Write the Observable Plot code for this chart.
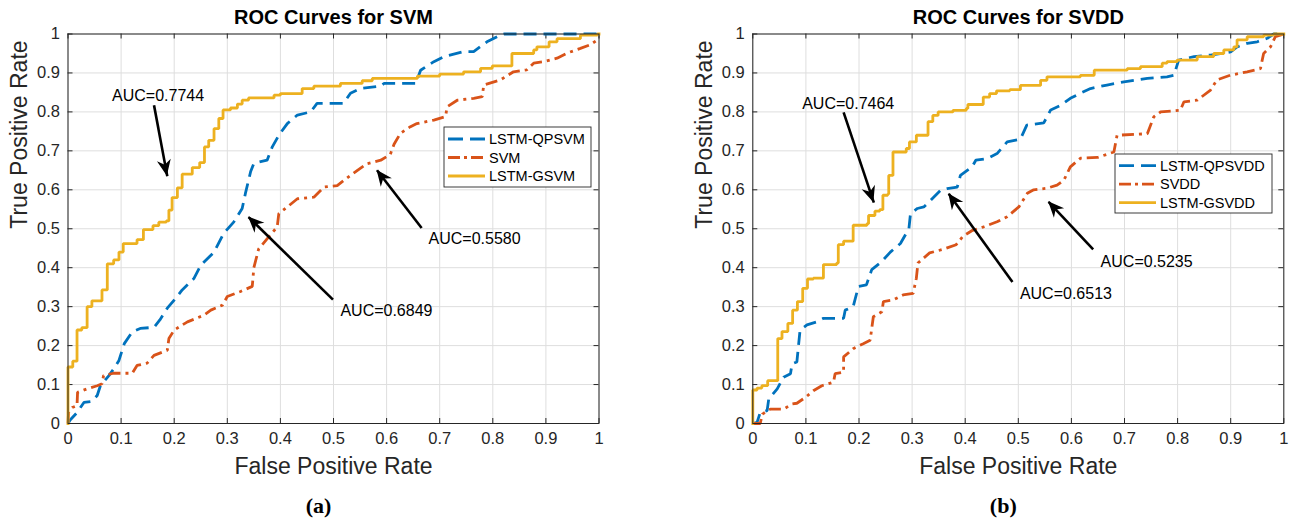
<!DOCTYPE html>
<html><head><meta charset="utf-8">
<script src="https://cdn.jsdelivr.net/npm/d3@7"></script>
<script src="https://cdn.jsdelivr.net/npm/@observablehq/plot@0.6"></script>
<style>
html,body{margin:0;padding:0;background:#fff;}
#fig{position:relative;width:1294px;height:522px;overflow:hidden;background:#fff;}
#fig svg{position:absolute;top:0;}
</style></head><body><div id="fig"></div>
<script>
// ---------- tick values / labels ----------
const tickValues = [0,0.1,0.2,0.3,0.4,0.5,0.6,0.7,0.8,0.9,1];
const tickLabels = ["0","0.1","0.2","0.3","0.4","0.5","0.6","0.7","0.8","0.9","1"];

// ---------- panel (a): SVM ----------
const titleA = "ROC Curves for SVM";
const namesA = ["LSTM-QPSVM","SVM","LSTM-GSVM"];
const qpsvmFpr = [0,0.004,0.017,0.03,0.045,0.055,0.061,0.077,0.086,0.096,0.106,0.121,0.136,0.162,0.173,0.187,0.203,0.215,0.237,0.25,0.275,0.293,0.312,0.328,0.334,0.344,0.35,0.375,0.385,0.397,0.413,0.432,0.457,0.469,0.519,0.532,0.551,0.589,0.595,0.655,0.664,0.689,0.708,0.745,0.764,0.789,0.814,0.821,1];
const qpsvmTpr = [0,0.009,0.028,0.054,0.057,0.072,0.097,0.123,0.14,0.162,0.205,0.235,0.244,0.247,0.266,0.296,0.322,0.343,0.372,0.406,0.44,0.488,0.517,0.552,0.59,0.647,0.668,0.676,0.711,0.74,0.77,0.792,0.8,0.822,0.822,0.848,0.86,0.866,0.873,0.873,0.907,0.929,0.942,0.955,0.955,0.98,0.997,1,1];
const svmFpr = [0,0.001,0.008,0.017,0.018,0.036,0.055,0.064,0.067,0.086,0.121,0.13,0.149,0.162,0.187,0.19,0.2,0.225,0.256,0.269,0.291,0.3,0.325,0.347,0.35,0.359,0.378,0.394,0.397,0.413,0.432,0.463,0.482,0.507,0.532,0.563,0.589,0.607,0.614,0.626,0.645,0.657,0.689,0.711,0.714,0.733,0.764,0.78,0.783,0.814,0.839,0.864,0.877,0.896,0.921,0.94,0.965,0.983,0.997,1];
const svmTpr = [0,0.028,0.041,0.046,0.08,0.089,0.097,0.102,0.123,0.129,0.129,0.149,0.155,0.175,0.188,0.218,0.24,0.261,0.278,0.291,0.304,0.326,0.339,0.352,0.4,0.448,0.479,0.505,0.539,0.556,0.577,0.581,0.607,0.611,0.637,0.667,0.676,0.691,0.717,0.745,0.762,0.77,0.779,0.788,0.813,0.83,0.835,0.839,0.869,0.882,0.903,0.908,0.925,0.929,0.938,0.951,0.963,0.972,0.985,0.99];
const gsvmFpr = [0,0,0.009,0.017,0.026,0.036,0.045,0.064,0.074,0.086,0.096,0.104,0.13,0.142,0.16,0.171,0.185,0.19,0.196,0.206,0.215,0.234,0.248,0.257,0.265,0.275,0.284,0.292,0.306,0.319,0.328,0.34,0.388,0.4,0.441,0.463,0.513,0.554,0.573,0.658,0.7,0.745,0.777,0.799,0.836,0.877,0.883,0.906,0.921,0.965,0.997,1];
const gsvmTpr = [0,0.145,0.16,0.24,0.246,0.3,0.315,0.343,0.41,0.42,0.44,0.462,0.472,0.498,0.508,0.517,0.52,0.548,0.58,0.605,0.64,0.657,0.67,0.71,0.727,0.757,0.783,0.805,0.81,0.82,0.83,0.836,0.843,0.847,0.86,0.866,0.873,0.88,0.886,0.892,0.897,0.903,0.912,0.918,0.95,0.959,0.967,0.98,0.988,0.997,1,1];
const aucTextA = ["AUC=0.7744","AUC=0.6849","AUC=0.5580"];
const aucTextXA = [0.083,0.513,0.679];
const aucTextYA = [0.841,0.288,0.475];
const arrowFromXA = [0.162,0.499,0.666];
const arrowFromYA = [0.817,0.318,0.502];
const arrowToXA = [0.187,0.340,0.582];
const arrowToYA = [0.635,0.530,0.650];

// ---------- panel (b): SVDD ----------
const titleB = "ROC Curves for SVDD";
const namesB = ["LSTM-QPSVDD","SVDD","LSTM-GSVDD"];
const qpsvddFpr = [0,0.008,0.014,0.027,0.03,0.046,0.058,0.071,0.074,0.083,0.089,0.102,0.121,0.133,0.171,0.174,0.189,0.199,0.214,0.224,0.243,0.259,0.278,0.294,0.297,0.31,0.322,0.335,0.354,0.366,0.385,0.391,0.413,0.42,0.441,0.46,0.479,0.504,0.516,0.548,0.561,0.58,0.598,0.617,0.636,0.667,0.699,0.724,0.743,0.78,0.793,0.802,0.831,0.862,0.9,0.912,0.931,0.95,0.969,0.981,1];
const qpsvddTpr = [0,0.003,0.028,0.033,0.063,0.089,0.119,0.128,0.153,0.158,0.24,0.253,0.261,0.27,0.27,0.291,0.3,0.352,0.356,0.395,0.416,0.44,0.462,0.5,0.539,0.552,0.556,0.573,0.599,0.603,0.607,0.637,0.659,0.676,0.68,0.693,0.723,0.73,0.766,0.772,0.805,0.817,0.835,0.848,0.86,0.869,0.877,0.882,0.886,0.89,0.894,0.933,0.942,0.946,0.954,0.967,0.976,0.98,0.989,1,1];
const svddFpr = [0,0.014,0.018,0.033,0.058,0.074,0.083,0.099,0.114,0.13,0.152,0.155,0.171,0.171,0.189,0.208,0.221,0.227,0.243,0.246,0.264,0.283,0.302,0.308,0.311,0.333,0.358,0.383,0.396,0.414,0.435,0.46,0.479,0.501,0.517,0.529,0.554,0.573,0.586,0.598,0.617,0.649,0.68,0.686,0.743,0.755,0.768,0.805,0.812,0.837,0.862,0.874,0.899,0.931,0.956,0.962,0.975,0.984,1];
const svddTpr = [0,0,0.024,0.037,0.037,0.05,0.052,0.067,0.084,0.097,0.106,0.128,0.132,0.171,0.192,0.205,0.214,0.274,0.287,0.313,0.317,0.33,0.334,0.373,0.412,0.438,0.447,0.459,0.481,0.496,0.505,0.518,0.531,0.556,0.591,0.6,0.604,0.612,0.625,0.659,0.681,0.683,0.697,0.74,0.744,0.787,0.8,0.804,0.826,0.83,0.856,0.882,0.894,0.903,0.911,0.95,0.967,0.993,1];
const gsvddFpr = [0,0,0.008,0.017,0.028,0.047,0.055,0.066,0.075,0.084,0.094,0.103,0.114,0.133,0.158,0.161,0.171,0.189,0.215,0.218,0.23,0.239,0.245,0.254,0.256,0.264,0.289,0.295,0.308,0.33,0.339,0.349,0.377,0.402,0.405,0.434,0.446,0.459,0.484,0.504,0.542,0.554,0.617,0.643,0.705,0.73,0.771,0.78,0.799,0.837,0.868,0.887,0.906,0.912,0.931,0.962,0.981,1];
const gsvddTpr = [0,0.086,0.091,0.097,0.11,0.218,0.236,0.257,0.291,0.313,0.347,0.371,0.373,0.408,0.412,0.459,0.468,0.509,0.513,0.534,0.545,0.549,0.586,0.589,0.637,0.697,0.706,0.723,0.74,0.775,0.791,0.8,0.804,0.809,0.819,0.838,0.847,0.854,0.857,0.868,0.881,0.89,0.894,0.907,0.911,0.916,0.925,0.929,0.933,0.942,0.95,0.959,0.967,0.985,0.993,0.997,1,1];
const aucTextB = ["AUC=0.7464","AUC=0.6513","AUC=0.5235"];
const aucTextXB = [0.093,0.503,0.655];
const aucTextYB = [0.820,0.333,0.415];
const arrowFromXB = [0.171,0.489,0.641];
const arrowFromYB = [0.799,0.363,0.447];
const arrowToXB = [0.228,0.369,0.557];
const arrowToYB = [0.567,0.590,0.569];

// ---------- styles ----------
const COLORS = ["#0072BD","#D95319","#EDB120"];
const DASHES = ["13,7","12,5,3,5",null];
const CURVES = ["linear","linear","step-after"];
const FONT = "'Liberation Sans', Arial, Helvetica, sans-serif";

function rows(fpr, tpr) { return fpr.map((f, i) => ({fpr: f, tpr: tpr[i]})); }

function panel(cfg) {
  const W = 647, H = 522;
  const mt = 33.5, mb = 99;
  const innerH = H - mt - mb, innerW = W - cfg.ml - cfg.mr;
  const fmt = d => tickLabels[tickValues.indexOf(d)];
  const ann = cfg.annText.map((t, i) => ({t, x: cfg.annX[i], y: cfg.annY[i],
    x1: cfg.fromX[i], y1: cfg.fromY[i], x2: cfg.toX[i], y2: cfg.toY[i]}));
  const marks = [
    Plot.gridX(tickValues, {stroke: "#dedede", strokeOpacity: 1, strokeWidth: 1}),
    Plot.gridY(tickValues, {stroke: "#dedede", strokeOpacity: 1, strokeWidth: 1}),
    Plot.tickX(tickValues, {x: d => d, insetTop: innerH - 5, stroke: "#262626", strokeWidth: 1}),
    Plot.tickX(tickValues, {x: d => d, insetBottom: innerH - 5, stroke: "#262626", strokeWidth: 1}),
    Plot.tickY(tickValues, {y: d => d, insetRight: innerW - 5, stroke: "#262626", strokeWidth: 1}),
    Plot.tickY(tickValues, {y: d => d, insetLeft: innerW - 5, stroke: "#262626", strokeWidth: 1}),
    Plot.axisX(tickValues, {anchor: "bottom", tickSize: 0, tickPadding: 9, tickFormat: fmt, fontSize: 16.5, label: null, fill: "#262626"}),
    Plot.axisY(tickValues, {anchor: "left", tickSize: 0, tickPadding: 8, tickFormat: fmt, fontSize: 16.5, label: null, fill: "#262626"}),
  ];
  cfg.series.forEach((s, k) => {
    marks.push(Plot.line(rows(s.fpr, s.tpr), {
      x: "fpr", y: "tpr", stroke: COLORS[k], strokeWidth: 2.8,
      strokeDasharray: DASHES[k] || undefined, strokeLinecap: DASHES[k] ? "butt" : "square",
      strokeLinejoin: "miter", curve: CURVES[k]
    }));
  });
  marks.push(
    Plot.frame({stroke: "#262626", strokeWidth: 1}),
    Plot.link(ann, {x1: "x1", y1: "y1", x2: "x2", y2: "y2", stroke: "black", strokeWidth: 2.6}),
    Plot.text(ann, {x: "x", y: "y", text: "t", textAnchor: "start", lineAnchor: "middle", fontSize: 16, fill: "black"}),
    Plot.text([cfg.title], {text: d => d, frameAnchor: "top", lineAnchor: "middle", dy: -16, fontSize: 20, fontWeight: "bold", fill: "black"}),
    Plot.text(["False Positive Rate"], {text: d => d, frameAnchor: "bottom", lineAnchor: "middle", dy: 43, fontSize: 23, fill: "#262626"}),
    Plot.text(["True Positive Rate"], {text: d => d, frameAnchor: "left", lineAnchor: "middle", dx: -48, rotate: -90, fontSize: 23, fill: "#262626"}),
    Plot.text([cfg.sub], {text: d => d, frameAnchor: "bottom", lineAnchor: "middle", dy: 82, dx: -15, fontSize: 22, fontWeight: "bold", fontFamily: "'Liberation Serif', 'Times New Roman', serif", fill: "black"})
  );
  const plot = Plot.plot({
    width: W, height: H,
    marginTop: mt, marginBottom: mb, marginLeft: cfg.ml, marginRight: cfg.mr,
    x: {domain: [0, 1]}, y: {domain: [0, 1]},
    style: {fontFamily: FONT, background: "white", color: "#262626", overflow: "visible"},
    marks
  });
  // arrow heads (filled, notched) placed with the plot's scales
  const sx = plot.scale("x"), sy = plot.scale("y");
  const svg = d3.select(plot);
  const gh = svg.append("g");
  ann.forEach(a => {
    const tx = sx.apply(a.x2), ty = sy.apply(a.y2);
    const fx = sx.apply(a.x1), fy = sy.apply(a.y1);
    const len = Math.hypot(tx - fx, ty - fy);
    const ux = (tx - fx) / len, uy = (ty - fy) / len;
    const nx = -uy, ny = ux;
    const L = 16, Wd = 7, N = 5;
    const pts = [[tx, ty], [tx - L*ux + Wd*nx, ty - L*uy + Wd*ny], [tx - (L-N)*ux, ty - (L-N)*uy], [tx - L*ux - Wd*nx, ty - L*uy - Wd*ny]];
    gh.append("polygon").attr("points", pts.map(p => p.join(",")).join(" ")).attr("fill", "black");
  });
  // legend box
  const lg = cfg.legend;
  const g = svg.append("g").attr("font-family", FONT).attr("text-anchor", "start");
  g.append("rect").attr("x", lg.x).attr("y", lg.y).attr("width", lg.w).attr("height", lg.h)
    .attr("fill", "white").attr("stroke", "#262626").attr("stroke-width", 0.9);
  cfg.names.forEach((n, k) => {
    const yy = lg.y + lg.row0 + k * lg.dy;
    g.append("line").attr("x1", lg.x + 4).attr("x2", lg.x + 41).attr("y1", yy).attr("y2", yy)
      .attr("stroke", COLORS[k]).attr("stroke-width", 2.8)
      .attr("stroke-dasharray", DASHES[k] ? (k === 0 ? "15,7" : "12,4,3,4") : null);
    g.append("text").attr("x", lg.x + 45).attr("y", yy).attr("dy", "0.35em")
      .attr("text-anchor", "start").attr("font-size", 14.5).attr("fill", "black").text(n);
  });
  return plot;
}

const fig = document.getElementById("fig");
const pa = panel({
  title: titleA, sub: "(a)", names: namesA, ml: 67.5, mr: 48.5,
  series: [{fpr: qpsvmFpr, tpr: qpsvmTpr}, {fpr: svmFpr, tpr: svmTpr}, {fpr: gsvmFpr, tpr: gsvmTpr}],
  annText: aucTextA, annX: aucTextXA, annY: aucTextYA,
  fromX: arrowFromXA, fromY: arrowFromYA, toX: arrowToXA, toY: arrowToYA,
  legend: {x: 444, y: 127, w: 147, h: 60, row0: 12, dy: 18.5}
});
pa.style.left = "0px";
fig.appendChild(pa);
const pb = panel({
  title: titleB, sub: "(b)", names: namesB, ml: 105.3, mr: 10.7,
  series: [{fpr: qpsvddFpr, tpr: qpsvddTpr}, {fpr: svddFpr, tpr: svddTpr}, {fpr: gsvddFpr, tpr: gsvddTpr}],
  annText: aucTextB, annX: aucTextXB, annY: aucTextYB,
  fromX: arrowFromXB, fromY: arrowFromYB, toX: arrowToXB, toY: arrowToYB,
  legend: {x: 468, y: 154, w: 157, h: 59, row0: 11.7, dy: 18.5}
});
pb.style.left = "647px";
fig.appendChild(pb);
</script>
</body></html>
